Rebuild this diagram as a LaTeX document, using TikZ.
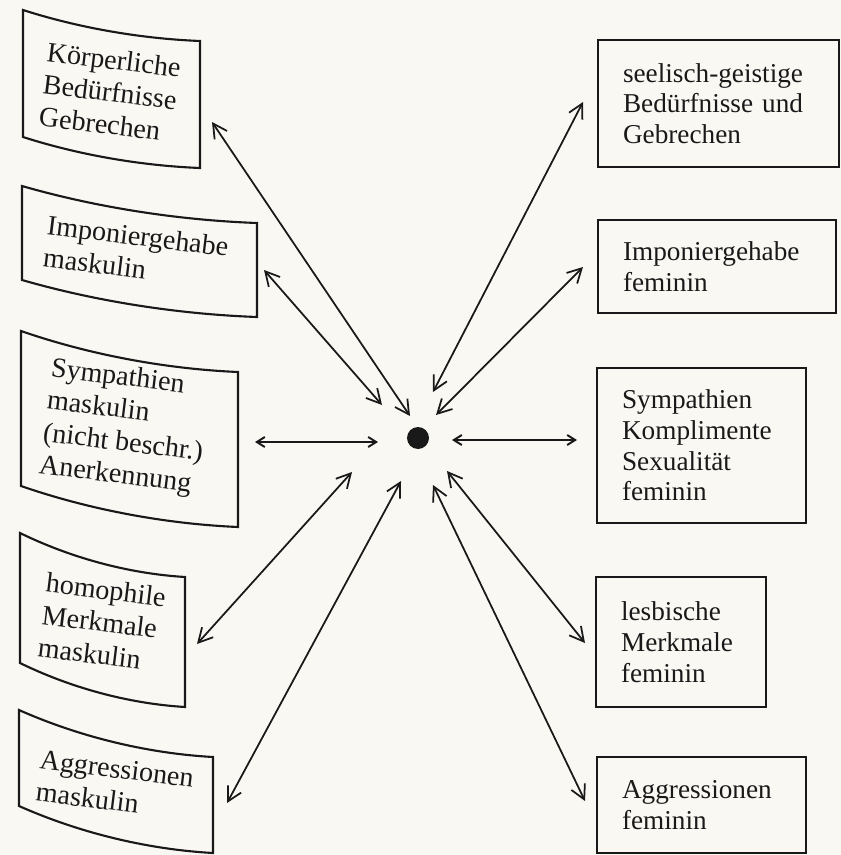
\documentclass[tikz,border=0pt]{standalone}
\usepackage{fontspec}
\setmainfont{Liberation Serif}
\usetikzlibrary{positioning,arrows.meta}

\definecolor{paper}{RGB}{250,248,243}
\definecolor{ink}{RGB}{25,25,25}

% bent box: left x, left top y, right x, right top y, height
\newcommand{\bentbox}[5]{%
  \draw[boxline] (#1,#2) .. controls ({#1+0.3*(#3-#1)},{#2+0.55*(#4-#2)}) and ({#1+0.65*(#3-#1)},{#2+0.92*(#4-#2)}) .. (#3,#4)
    -- (#3,{#4+#5}) .. controls ({#1+0.65*(#3-#1)},{#2+0.92*(#4-#2)+#5}) and ({#1+0.3*(#3-#1)},{#2+0.55*(#4-#2)+#5}) .. (#1,{#2+#5}) -- cycle;}

\begin{document}
\begin{tikzpicture}[x=0.02cm,y=-0.02cm,
    boxline/.style={draw=ink, line width=1.2pt},
    lbox/.style={align=left, rotate=-7, text=ink, font=\fontsize{16}{18.5}\selectfont},
    rbox/.style={draw=ink, line width=1.2pt, align=left, anchor=west, inner xsep=0.5cm, text=ink, font=\fontsize{15.5}{17.5}\selectfont},
    link/.style={draw=ink, line width=1pt, {Straight Barb[length=2.8mm,width=3mm]}-{Straight Barb[length=2.8mm,width=3mm]}},
    flatlink/.style={draw=ink, line width=1.1pt, {Straight Barb[length=1.6mm,width=2mm]}-{Straight Barb[length=1.6mm,width=2mm]}}]
  \fill[paper] (0,0) rectangle (841,855);

  % left side
  \bentbox{23}{10}{200}{41}{127}
  \bentbox{22}{186}{257}{223}{94}
  \bentbox{21}{331}{238}{372}{155}
  \bentbox{20}{533}{185}{577}{130}
  \bentbox{19}{710}{213}{757}{96}
  \node[lbox] (koerper) at (110,92) {Körperliche\\Bedürfnisse\\Gebrechen};
  \node[lbox] (impm) at (136,252) {Imponiergehabe\\maskulin};
  \node[lbox] (sympm) at (125,428) {Sympathien\\maskulin\\(nicht beschr.)\\Anerkennung};
  \node[lbox] (homo) at (102,622) {homophile\\Merkmale\\maskulin};
  \node[lbox] (aggm) at (115,785) {Aggressionen\\maskulin};

  % right side
  \node[rbox, text width=3.82cm, minimum height=2.54cm] (seel) at (597,103.5) {seelisch-geistige\\Bedürfnisse und\\Gebrechen};
  \node[rbox, text width=3.76cm, minimum height=1.86cm] (impf) at (597,266.5) {Imponiergehabe\\feminin};
  \node[rbox, text width=3.18cm, minimum height=3.1cm] (sympf) at (596,445.5) {Sympathien\\Komplimente\\Sexualität\\feminin};
  \node[rbox, text width=2.4cm, minimum height=2.6cm] (lesb) at (595,642) {lesbische\\Merkmale\\feminin};
  \node[rbox, text width=3.18cm, minimum height=1.92cm] (aggf) at (596,805) {Aggressionen\\feminin};

  % centre
  \node[circle, fill=ink, minimum size=0.44cm, inner sep=0pt] (kern) at (418,438) {};

  \coordinate (o1) at (212,122);  \coordinate (i1) at (410,416);
  \coordinate (o2) at (264,270);  \coordinate (i2) at (382,405);
  \coordinate (o3) at (583,102);  \coordinate (i3) at (433,392);
  \coordinate (o4) at (583,267);  \coordinate (i4) at (436,415);
  \coordinate (o5) at (255,442);  \coordinate (i5) at (378,442);
  \coordinate (o6) at (577,440);  \coordinate (i6) at (452,440);
  \coordinate (o7) at (197,644);  \coordinate (i7) at (352,472);
  \coordinate (o8) at (227,803);  \coordinate (i8) at (401,481);
  \coordinate (o9) at (585,643);  \coordinate (i9) at (447,471);
  \coordinate (o10) at (585,801); \coordinate (i10) at (433,485);

  \draw[link] (o1) -- (i1);
  \draw[link] (o2) -- (i2);
  \draw[link] (o3) -- (i3);
  \draw[link] (o4) -- (i4);
  \draw[flatlink] (o5) -- (i5);
  \draw[flatlink] (i6) -- (o6);
  \draw[link] (o7) -- (i7);
  \draw[link] (o8) -- (i8);
  \draw[link] (o9) -- (i9);
  \draw[link] (o10) -- (i10);
\end{tikzpicture}
\end{document}
